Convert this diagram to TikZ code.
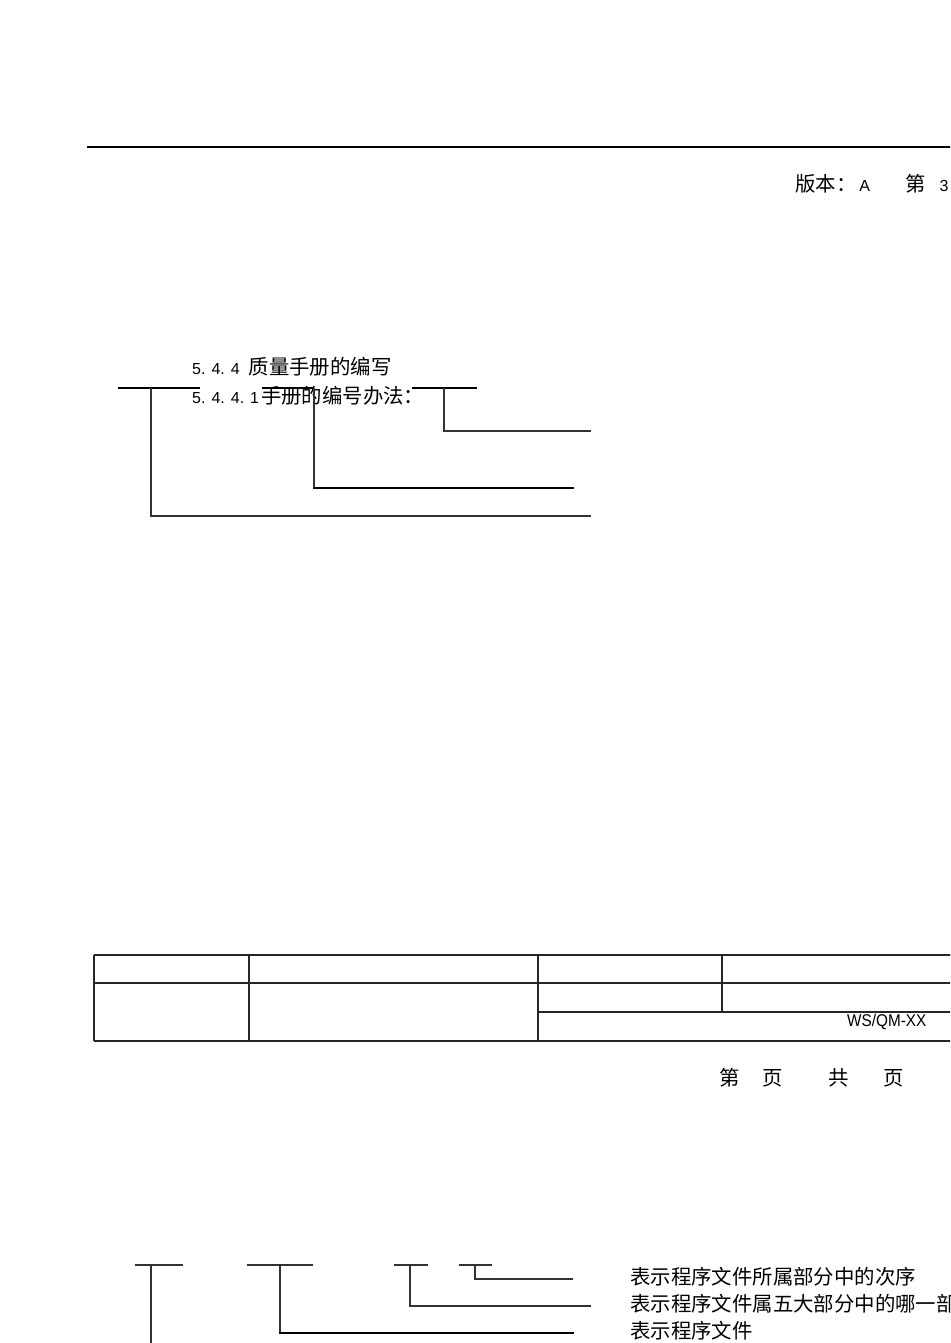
\documentclass[tikz,border=0pt]{standalone}
\usepackage{fontspec}
\setmainfont{Liberation Sans}
\newfontfamily\cjk{Noto Sans CJK SC}
\newfontfamily\dig{Liberation Sans}
\newcommand\dg[1]{{\dig\fontsize{16}{18}\selectfont #1}}
\begin{document}
\begin{tikzpicture}[x=1pt,y=-1pt,
  thin line/.style={line width=1.1pt, black!80},
  thick line/.style={line width=2.4pt, black},
  rule/.style={line width=1.8pt, black},
  tabline/.style={line width=1.1pt, black!85},
  txt/.style={font=\cjk\fontsize{20.4}{24}\selectfont, inner sep=0pt, anchor=base west}]
\useasboundingbox (0,0) rectangle (950,1343);
\clip (0,0) rectangle (950,1343);
% header rule
\draw[rule] (87,147) -- (952,147);
\node[txt] (ver) at (795,192) {版本：\hspace{3pt}\dg{A}};
\node[txt] (pg) at (905,192) {第\hspace{14pt}\dg{3}};
% section titles
\node[txt] (t1) at (192,374) {\dg{5.\hspace{6pt}4.\hspace{6pt}4}\hspace{9pt}质量手册的编写};
\node[txt] (t2) at (192,403) {\dg{5.\hspace{6pt}4.\hspace{6pt}4.\hspace{6pt}1}\hspace{2pt}手册的编号办法：};
% top bracket diagram
\coordinate (a1) at (118,388); \coordinate (a2) at (200,388);
\coordinate (a3) at (262,388); \coordinate (a4) at (313,388);
\coordinate (a5) at (412,388); \coordinate (a6) at (477,388);
\draw[thick line] (a1) -- (a2);
\draw[thick line] (a3) -- (a4);
\draw[thick line] (a5) -- (a6);
\coordinate (v1) at (151,388); \coordinate (e1) at (591,516);
\coordinate (v2) at (314,388); \coordinate (e2) at (574,488);
\coordinate (v3) at (444,388); \coordinate (e3) at (591,431);
\draw[thin line] (v1) |- (e1);
\draw[thin line] (v2) -- (314,488);
\draw[thick line] (313,488) -- (e2);
\draw[thin line] (v3) |- (e3);
% table
\draw[tabline] (94,955) -- (952,955);
\draw[tabline] (94,983) -- (952,983);
\draw[tabline] (538,1012) -- (952,1012);
\draw[tabline] (94,1041) -- (952,1041);
\draw[tabline] (94,955) -- (94,1041);
\draw[tabline] (249,955) -- (249,1041);
\draw[tabline] (538,955) -- (538,1041);
\draw[tabline] (722,955) -- (722,1012);
\node[inner sep=0pt, anchor=base west, font=\dig\fontsize{17}{18}\selectfont] (code) at (847,1026) {\scalebox{0.9}[1]{WS/QM-XX}};
\node[txt] (pages) at (719,1085) {第\hspace{23pt}页\hspace{45pt}共\hspace{35pt}页};
% bottom bracket diagram
\coordinate (b1) at (135,1265); \coordinate (b2) at (183,1265);
\coordinate (b3) at (247,1265); \coordinate (b4) at (313,1265);
\coordinate (b5) at (394,1265); \coordinate (b6) at (428,1265);
\coordinate (b7) at (459,1265); \coordinate (b8) at (492,1265);
\draw[thin line] (b1) -- (b2);
\draw[thin line] (b3) -- (b4);
\draw[thin line] (b5) -- (b6);
\draw[thin line] (b7) -- (b8);
\draw[thin line] (151,1265) -- (151,1345);
\draw[thin line] (280,1265) -- (280,1333);
\draw[thick line] (279,1333) -- (574,1333);
\draw[thin line] (410,1265) |- (591,1306);
\draw[thin line] (475,1265) |- (573,1279);
\node[txt] (l1) at (630,1284) {表示程序文件所属部分中的次序};
\node[txt] (l2) at (630,1311) {表示程序文件属五大部分中的哪一部};
\node[txt] (l3) at (630,1338) {表示程序文件};
\end{tikzpicture}
\end{document}
